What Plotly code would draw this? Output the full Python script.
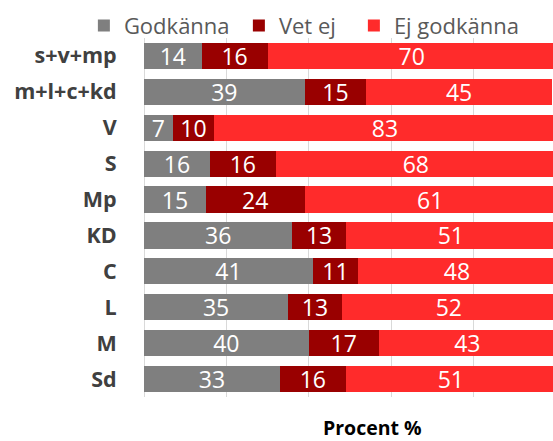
import plotly.graph_objects as go

categories = ["s+v+mp", "m+l+c+kd", "V", "S", "Mp", "KD", "C", "L", "M", "Sd"]
godkanna = [14, 39, 7, 16, 15, 36, 41, 35, 40, 33]
vet_ej = [16, 15, 10, 16, 24, 13, 11, 13, 17, 16]
ej_godkanna = [70, 45, 83, 68, 61, 51, 48, 52, 43, 51]
x_ticks = [0, 20, 40, 60, 80, 100]

series = [
    ("Godkänna", godkanna, "#7F7F7F", 110),
    ("Vet ej", vet_ej, "#990000", 70),
    ("Ej godkänna", ej_godkanna, "#FF2B2B", 130),
]

FONT = "Open Sans"
fig = go.Figure()
for name, vals, color, lw in series:
    fig.add_trace(go.Bar(
        y=categories, x=vals, name=name, orientation="h",
        marker=dict(color=color, line=dict(width=0)),
        text=[str(v) for v in vals], textposition="inside",
        insidetextanchor="middle", textangle=0, constraintext="none",
        textfont=dict(family=FONT, size=23, color="white"),
        legendwidth=lw, hoverinfo="skip",
    ))

fig.update_layout(
    barmode="stack",
    bargap=0.27,
    width=553, height=441,
    margin=dict(l=144, r=0, t=38, b=44, autoexpand=False),
    paper_bgcolor="white", plot_bgcolor="white",
    font=dict(family=FONT),
    showlegend=True,
    legend=dict(
        orientation="h", x=-0.147, xanchor="left", y=1.034, yanchor="middle",
        font=dict(family=FONT, size=22, color="#595959"),
        traceorder="normal",
        bgcolor="rgba(0,0,0,0)",
    ),
    xaxis=dict(
        range=[0, 99.3], tickvals=x_ticks, showticklabels=False,
        showgrid=True, gridcolor="#D9D9D9", gridwidth=1,
        zeroline=True, zerolinecolor="#D9D9D9", zerolinewidth=1,
        showline=False, fixedrange=True, automargin=False,
    ),
    yaxis=dict(
        autorange="reversed", showgrid=False, showline=False, automargin=False,
        tickfont=dict(family=FONT, size=21.5, color="#404040", weight="bold"),
        ticks="outside", ticklen=22, tickcolor="rgba(0,0,0,0)",
        fixedrange=True,
    ),
    annotations=[dict(
        text="<b>Procent %</b>", xref="paper", yref="paper",
        x=0.559, y=-0.086, xanchor="center", yanchor="middle",
        showarrow=False, font=dict(family=FONT, size=19.5, color="black"),
    )],
)

fig.write_html(
    "out.html",
    config={"displayModeBar": False},
    post_script="document.body.style.margin='0';document.body.style.padding='0';",
)
